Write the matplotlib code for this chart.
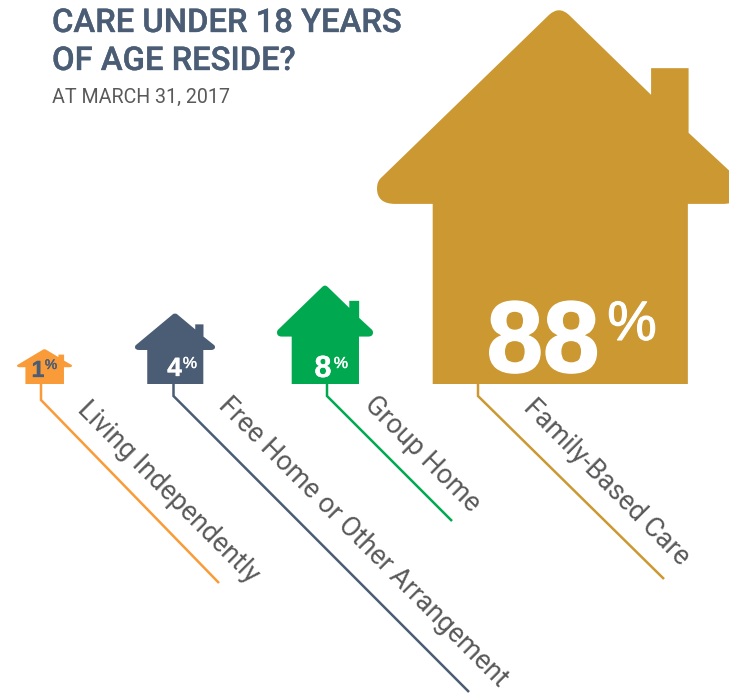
import matplotlib
matplotlib.use("Agg")
import matplotlib.pyplot as plt
import matplotlib.patheffects as pe
from matplotlib.path import Path
from matplotlib.patches import PathPatch

categories = ["Living Independently", "Free Home or Other Arrangement", "Group Home", "Family-Based Care"]
percent_values = [1, 4, 8, 88]
title_lines = ["CARE UNDER 18 YEARS", "OF AGE RESIDE?"]
subtitle = "AT MARCH 31, 2017"

house_colors = ["#F99B38", "#4A5D75", "#00A94F", "#CB9831"]
number_colors = ["#4A5D75", "#FFFFFF", "#FFFFFF", "#FFFFFF"]
centers = [44.5, 175, 325, 559]
widths = [55, 80, 96, 364]
heights = [35, 71, 99, 376]
base_y = 384
stem_x = [41, 173.5, 327, 478]
stem_end_y = [400, 396, 396, 396]
line_end = [(219, 583), (469, 692), (452, 521), (664, 579)]
label_pos = [(82, 405), (223, 401), (369, 400), (528, 403)]
num_sizes = [16.8, 19, 22, 73]
pct_sizes = [10, 11.5, 11.5, 40]
num_xy = [(38, 377), (174.5, 376), (323, 377), (543, 372)]
pct_xy = [(51, 369), (190, 368), (341, 368), (632, 340)]
stroke_num = [0.2, 0.2, 0.2, 1.2]
stroke_pct = [0.3, 0.3, 0.3, 0.8]


def house_path(cx, w, h, base):
    """Rounded house outline scaled from one unit template."""
    top = base - h
    X = lambda u: cx + u * w
    Y = lambda v: top + v * h
    verts = [
        (X(-0.347), Y(1)), (X(-0.347), Y(0.521)),
        (X(-0.45), Y(0.521)), (X(-0.5), Y(0.521)), (X(-0.5), Y(0.48)), (X(-0.5), Y(0.46)), (X(-0.487), Y(0.45)),
        (X(-0.027), Y(0.018)), (X(0), Y(-0.006)), (X(0.027), Y(0.018)),
        (X(0.253), Y(0.231)),
        (X(0.253), Y(0.16)), (X(0.356), Y(0.16)), (X(0.356), Y(0.332)),
        (X(0.487), Y(0.45)), (X(0.5), Y(0.46)), (X(0.5), Y(0.48)), (X(0.5), Y(0.521)), (X(0.45), Y(0.521)),
        (X(0.354), Y(0.521)), (X(0.354), Y(1)), (X(-0.347), Y(1)),
    ]
    L, C = Path.LINETO, Path.CURVE3
    codes = [Path.MOVETO, L, L, C, C, C, C, L, C, C, L, L, L, L, L, C, C, C, C, L, L, Path.CLOSEPOLY]
    return Path(verts, codes)


fig = plt.figure(figsize=(7.29, 6.93), dpi=100)
ax = fig.add_axes([0, 0, 1, 1])
ax.set_xlim(0, 729)
ax.set_ylim(693, 0)
ax.axis("off")

for i, value in enumerate(percent_values):
    color = house_colors[i]
    ax.plot([stem_x[i], stem_x[i], line_end[i][0]], [base_y, stem_end_y[i], line_end[i][1]],
            color=color, lw=1.8, solid_joinstyle="miter", solid_capstyle="butt", zorder=1)
    ax.add_patch(PathPatch(house_path(centers[i], widths[i], heights[i], base_y),
                           facecolor=color, edgecolor="none", zorder=2))
    ax.text(num_xy[i][0], num_xy[i][1], str(value), color=number_colors[i], fontsize=num_sizes[i],
            family="Liberation Sans", weight="bold", ha="center", va="baseline", zorder=3,
            path_effects=[pe.withStroke(linewidth=stroke_num[i], foreground=number_colors[i])])
    ax.text(pct_xy[i][0], pct_xy[i][1], "%", color=number_colors[i], fontsize=pct_sizes[i],
            family="Liberation Sans", weight="normal",
            ha="center", va="baseline", zorder=3,
            path_effects=[pe.withStroke(linewidth=stroke_pct[i], foreground=number_colors[i])])
    ax.text(label_pos[i][0], label_pos[i][1], categories[i], color="#595959", fontsize=19.4,
            family="Roboto", weight="normal", rotation=-45, rotation_mode="anchor",
            ha="left", va="center", zorder=3)

title_fx = [pe.withStroke(linewidth=0.25, foreground="#4A5D75")]
ax.text(52, 32, title_lines[0], color="#4A5D75", fontsize=23.6, family="Roboto", weight="medium",
        va="baseline", path_effects=title_fx)
ax.text(52, 70, title_lines[1], color="#4A5D75", fontsize=23.6, family="Roboto", weight="medium",
        va="baseline", path_effects=title_fx)
ax.text(52, 103, subtitle, color="#595959", fontsize=14.1, family="Roboto", weight="normal", va="baseline")

fig.savefig("out.png", dpi=100)
